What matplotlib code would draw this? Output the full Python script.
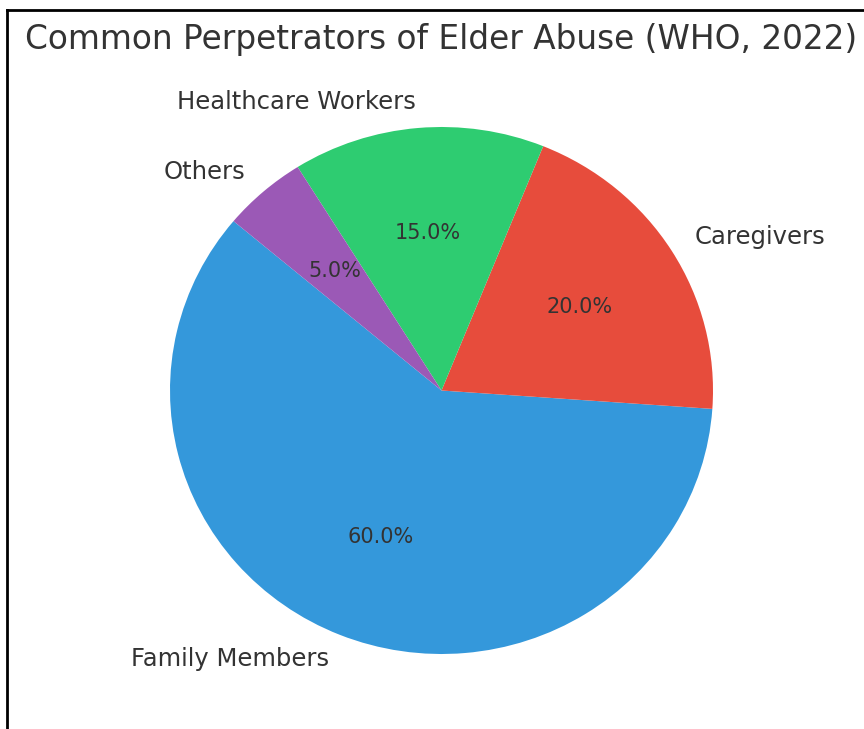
import matplotlib.pyplot as plt
from matplotlib.lines import Line2D

labels = ['Family Members', 'Caregivers', 'Healthcare Workers', 'Others']
shares = [60, 20, 15, 5]
colors = ['#3498db', '#e74c3c', '#2ecc71', '#9b59b6']
title = 'Common Perpetrators of Elder Abuse (WHO, 2022)'

fig = plt.figure(figsize=(8.64, 7.29), dpi=100)

# pie centred near (441.5, 390.5) px; the scan is a bit wider than tall
W, H = 864, 729
cx, cy, rx, ry = 441.5, 390.5, 271.5, 263.5
ax = fig.add_axes([(cx - 1.25 * rx) / W, 1 - (cy + 1.25 * ry) / H,
                   2.5 * rx / W, 2.5 * ry / H])

wedges, texts, autotexts = ax.pie(shares, labels=labels, colors=colors,
                                  autopct='%1.1f%%', startangle=140,
                                  textprops={'fontsize': 17.5, 'color': '#333333'})
for t in autotexts:
    t.set_fontsize(15)
ax.set_xlim(-1.25, 1.25)
ax.set_ylim(-1.25, 1.25)
ax.set_aspect('auto')

fig.text(cx / W, 1 - 40 / H, title, ha='center', va='center',
         fontsize=23.6, color='#333333')

# page border from the source document
fig.add_artist(Line2D([7 / W, 7 / W], [0, 1 - 10 / H], color='black', lw=2))
fig.add_artist(Line2D([7 / W, 1], [1 - 10 / H, 1 - 10 / H], color='black', lw=2))

fig.savefig('out.png', dpi=100)
